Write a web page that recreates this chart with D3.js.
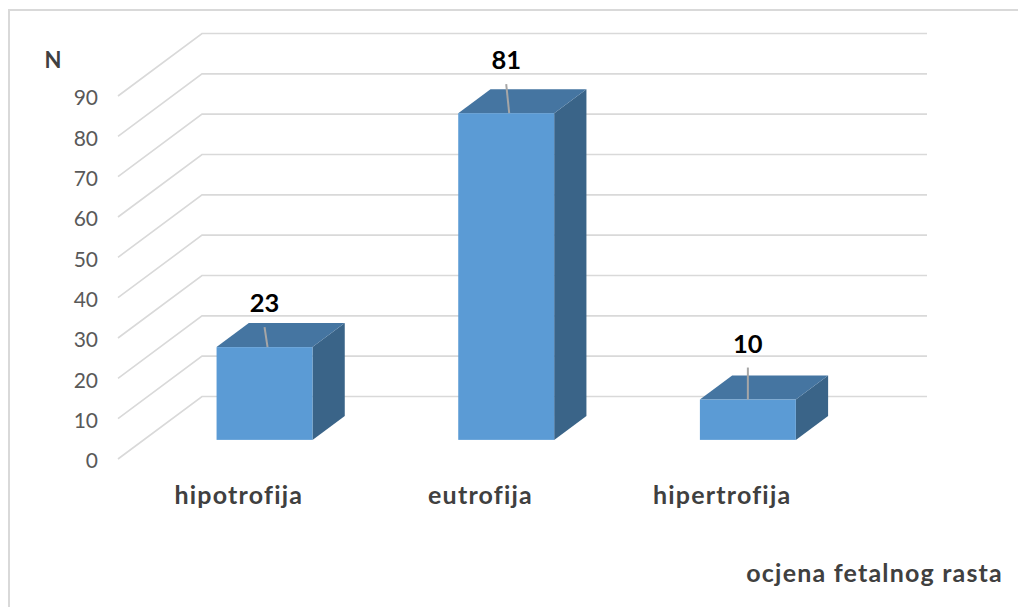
<!DOCTYPE html>
<html><head><meta charset="utf-8">
<script src="https://cdn.jsdelivr.net/npm/d3@7"></script>
<style>body{margin:0;background:#fff}svg{display:block}</style></head>
<body>
<svg id="chart" width="1018" height="607"></svg>
<script>
// ---- data ----
const categories = ["hipotrofija", "eutrofija", "hipertrofija"];
const values = [23, 81, 10];
const tickValues = [0, 10, 20, 30, 40, 50, 60, 70, 80, 90];
const yAxisTitle = "N";
const xAxisTitle = "ocjena fetalnog rasta";

// ---- layout / style ----
const DX = 84, DY = -62.5;          // depth vector of the 3D box
const Z0 = 0.306, Z1 = 0.69;        // bar depth extent
const labelLift = [35, 44, 47];     // label baseline above front-top edge
const C = {front: "#5b9bd5", top: "#4575a1", side: "#3a6488", grid: "#d9d9d9", tick: "#595959", text: "#404040"};

const svg = d3.select("#chart");
svg.append("rect").attr("x", 9).attr("y", 10).attr("width", 1020).attr("height", 620)
  .attr("fill", "#fff").attr("stroke", "#d9d9d9").attr("stroke-width", 2);

const y = d3.scaleLinear().domain([0, 90]).range([459, 96]);
const x = d3.scaleBand().domain(categories).range([118, 843]).paddingInner(0.603).paddingOuter(0.3015);
const bw = x.bandwidth();
const P = (px, py, z) => [px + z * DX, py + z * DY];

// gridlines (side wall diagonal + back wall horizontal)
const g = svg.append("g");
tickValues.forEach(t => {
  const a = [118, y(t)], b = P(118, y(t), 1), c = [927, b[1]];
  g.append("path").attr("d", d3.line()([a, b, c])).attr("fill", "none")
    .attr("stroke", C.grid).attr("stroke-width", 1.6);
});

// y tick labels
const yAxis = d3.axisLeft(y).tickValues(tickValues).tickSize(0).tickPadding(0);
const ya = svg.append("g").attr("transform", "translate(98,2)").call(yAxis);
ya.select(".domain").remove();
ya.selectAll("text").attr("font-family", "Lato").attr("font-size", 21).attr("fill", C.tick);

svg.append("text").attr("x", 53).attr("y", 68).attr("text-anchor", "middle")
  .attr("font-family", "Lato").attr("font-weight", 700).attr("font-size", 22)
  .attr("fill", C.text).text(yAxisTitle);

// bars
const dz = Z1 - Z0;
categories.forEach((cat, i) => {
  const v = values[i];
  const [x0, yTop] = P(x(cat), y(v), Z0);
  const yBot = P(x(cat), y(0), Z0)[1];
  const x1 = x0 + bw;
  const ddx = dz * DX, ddy = dz * DY;
  const bg = svg.append("g");
  bg.append("polygon").attr("points", [[x1, yTop], [x1 + ddx, yTop + ddy], [x1 + ddx, yBot + ddy], [x1, yBot]].join(" "))
    .attr("fill", C.side);
  bg.append("polygon").attr("points", [[x0, yTop], [x1, yTop], [x1 + ddx, yTop + ddy], [x0 + ddx, yTop + ddy]].join(" "))
    .attr("fill", C.top);
  bg.append("rect").attr("x", x0).attr("y", yTop).attr("width", bw).attr("height", yBot - yTop).attr("fill", C.front);
  const cx = x0 + bw / 2;
  const base = yTop - labelLift[i];
  bg.append("line").attr("x1", cx).attr("y1", base + 15).attr("x2", cx + (i < 2 ? 3 : 0)).attr("y2", yTop)
    .attr("stroke", "#a6a6a6").attr("stroke-width", 2);
  bg.append("text").attr("x", cx).attr("y", base).attr("text-anchor", "middle")
    .attr("font-family", "Lato").attr("font-weight", 700).attr("font-size", 25.5).attr("fill", "#000").text(v);
});

// category labels
categories.forEach(cat => {
  svg.append("text").attr("x", x(cat) + bw / 2).attr("y", 504).attr("text-anchor", "middle")
    .attr("font-family", "Lato").attr("font-weight", 700).attr("font-size", 25).attr("letter-spacing", 1.2)
    .attr("fill", C.text).text(cat);
});

svg.append("text").attr("x", 1003).attr("y", 582).attr("text-anchor", "end")
  .attr("font-family", "Lato").attr("font-weight", 700).attr("font-size", 25).attr("letter-spacing", 1.2)
  .attr("fill", C.text).text(xAxisTitle);
</script>
</body></html>
